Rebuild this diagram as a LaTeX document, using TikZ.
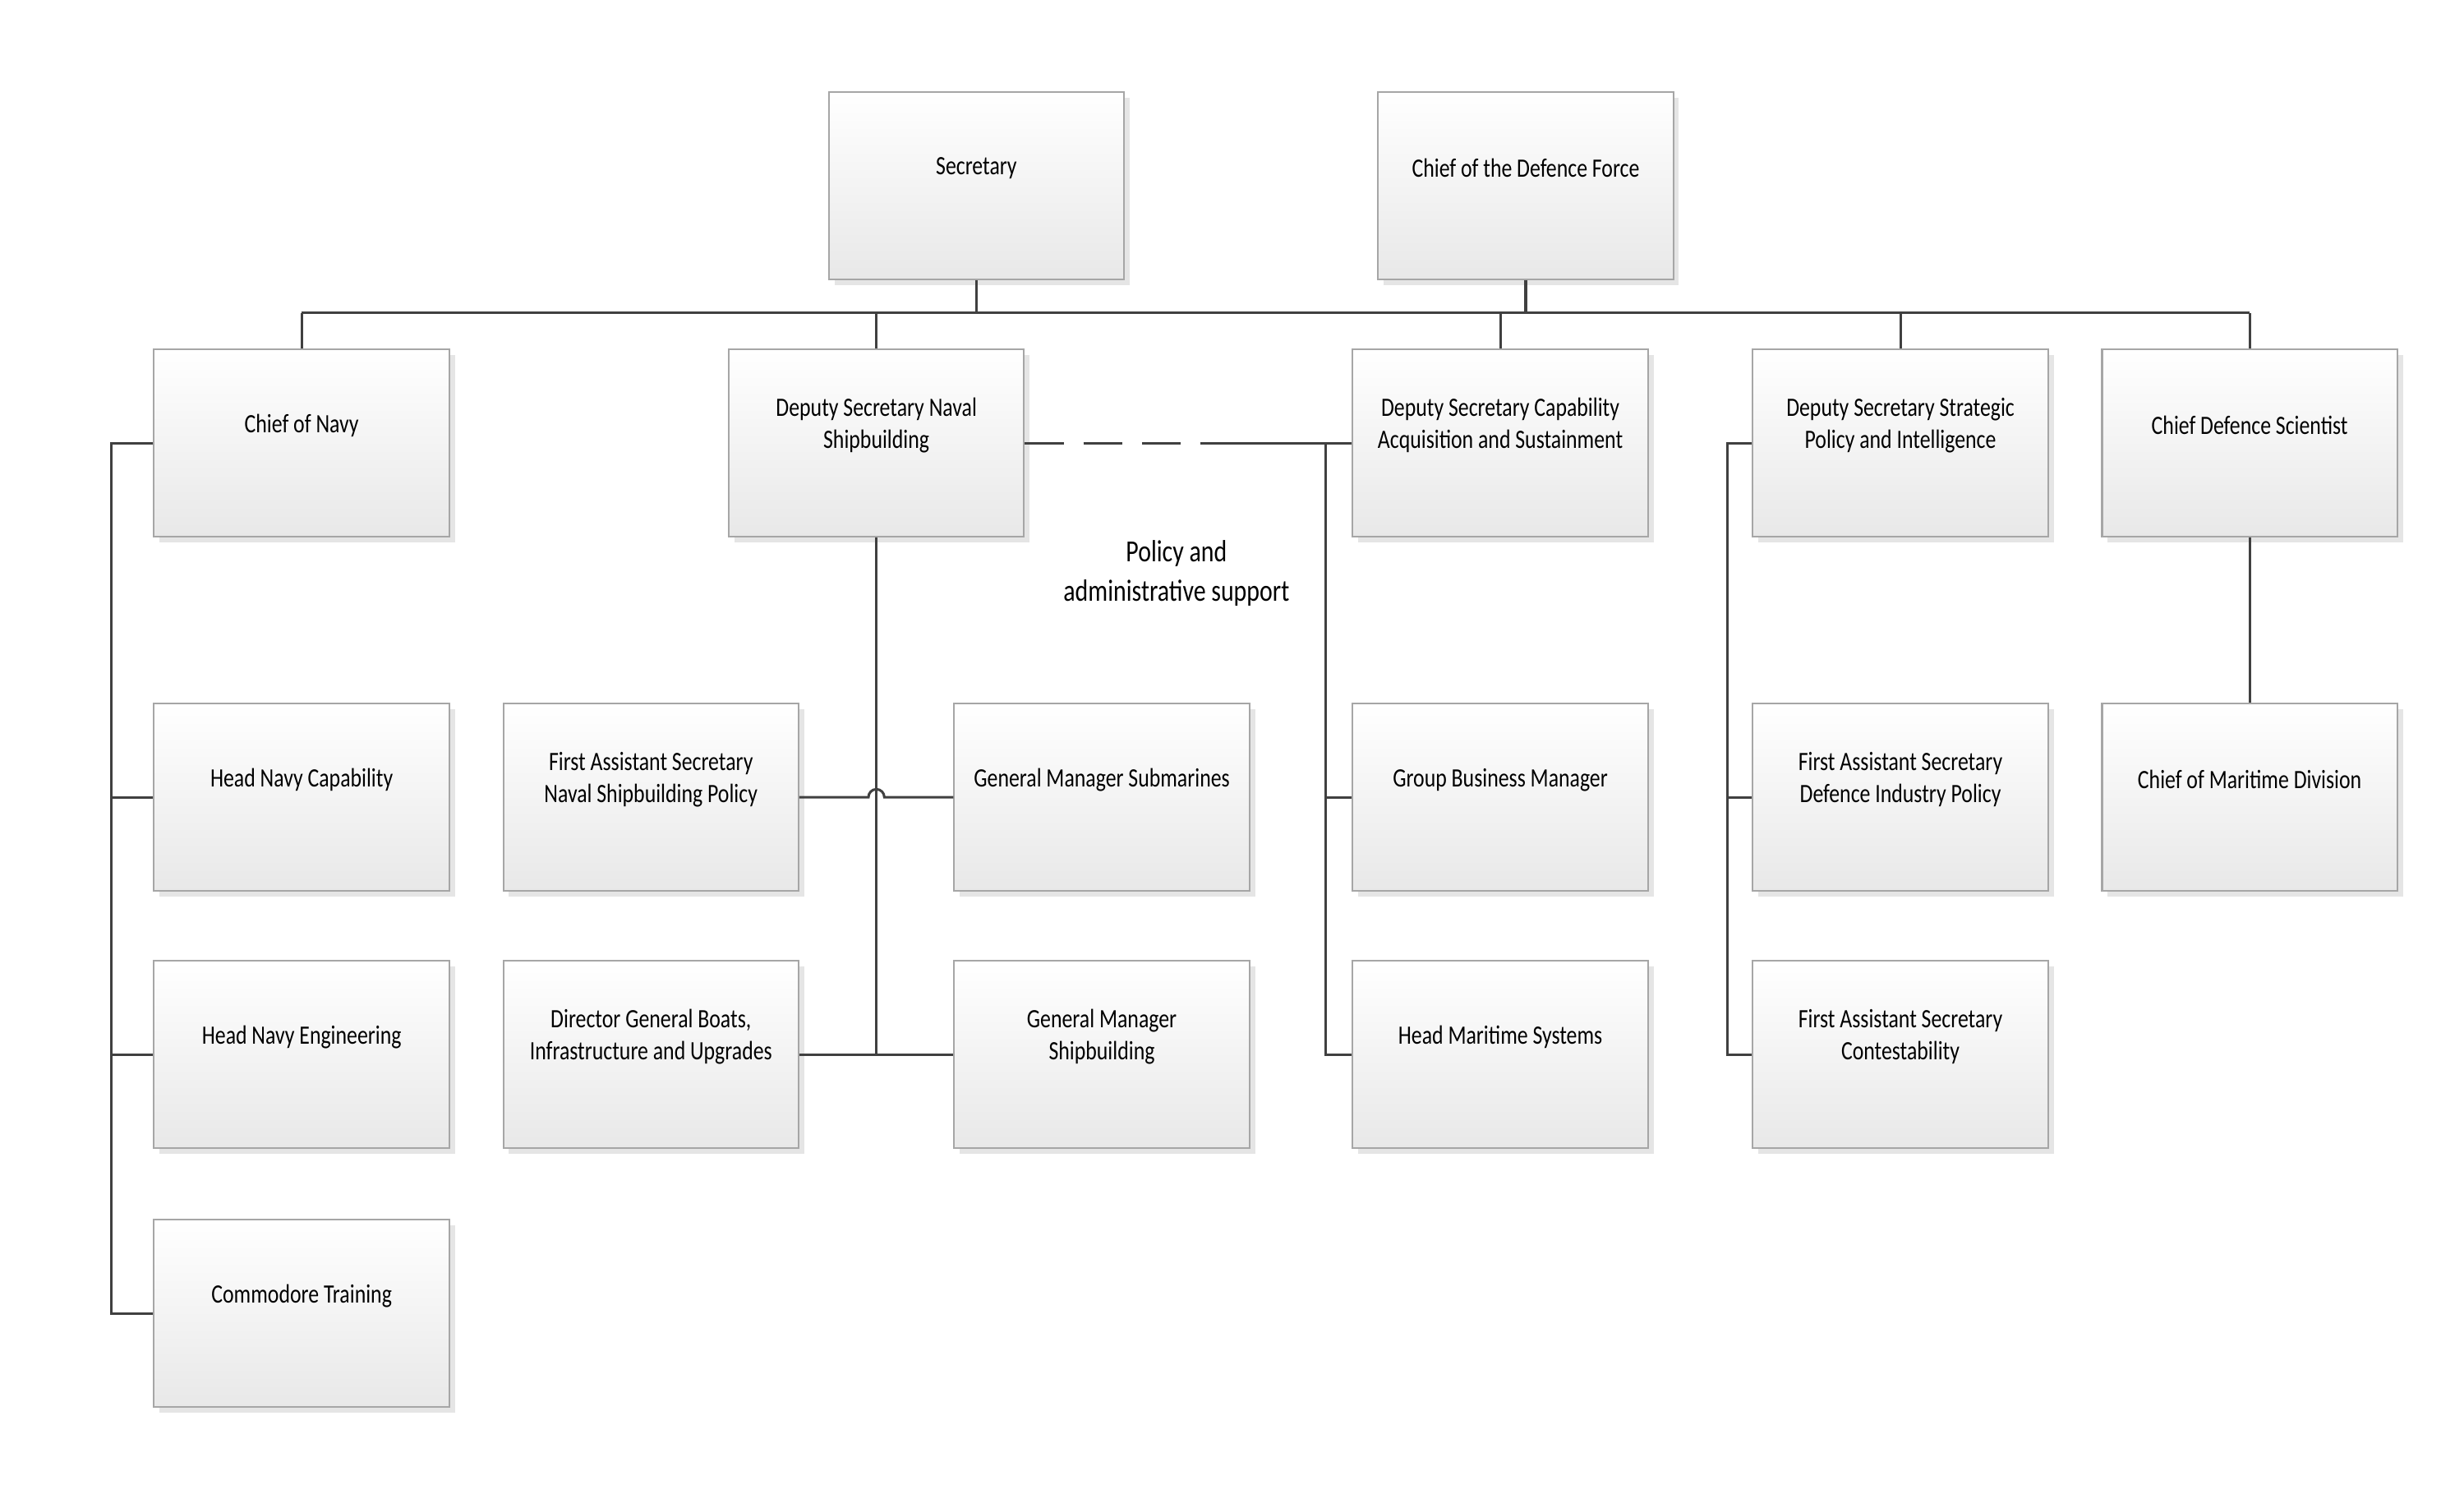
\documentclass[tikz,border=0pt]{standalone}
\usepackage{fontspec}
\setmainfont{Carlito}[FakeStretch=0.8]
\usetikzlibrary{shadows}
\begin{document}
\begin{tikzpicture}[x=0.02cm,y=-0.02cm,
 box/.style={draw=gray!70,line width=0.6pt,shade,top color=white,bottom color=gray!18,minimum width=3.72cm,minimum height=2.36cm,drop shadow={shadow xshift=2pt,shadow yshift=-2pt,fill=gray!40}},
 txt/.style={align=center,font=\fontsize{9.5}{11.5}\selectfont,inner sep=0pt},
 ln/.style={draw=black!75,line width=0.9pt}]
\useasboundingbox (0,0) rectangle (1552,935);
\newcommand\bx[4]{\node[box] (#1) at (#2,#3) {};\node[txt] (#1t) at ([yshift=0.22cm]#1.center) {#4};}
\bx{sec}{615}{117}{Secretary}
\bx{cdf}{961}{117}{Chief of the Defence Force}
\bx{cn}{190}{279}{Chief of Navy}
\bx{dsn}{552}{279}{Deputy Secretary Naval\\Shipbuilding}
\bx{dsc}{945}{279}{Deputy Secretary Capability\\Acquisition and Sustainment}
\bx{dss}{1197}{279}{Deputy Secretary Strategic\\Policy and Intelligence}
\bx{cds}{1417}{279}{Chief Defence Scientist}
\bx{hnc}{190}{502}{Head Navy Capability}
\bx{fasn}{410}{502}{First Assistant Secretary\\Naval Shipbuilding Policy}
\bx{gms}{694}{502}{General Manager Submarines}
\bx{gbm}{945}{502}{Group Business Manager}
\bx{fasd}{1197}{502}{First Assistant Secretary\\Defence Industry Policy}
\bx{cmd}{1417}{502}{Chief of Maritime Division}
\bx{hne}{190}{664}{Head Navy Engineering}
\bx{dgb}{410}{664}{Director General Boats,\\Infrastructure and Upgrades}
\bx{gmsb}{694}{664}{General Manager\\Shipbuilding}
\bx{hms}{945}{664}{Head Maritime Systems}
\bx{fasc}{1197}{664}{First Assistant Secretary\\Contestability}
\bx{ct}{190}{827}{Commodore Training}
\coordinate (busl) at (190,197);
\coordinate (busr) at (1417,197);
\draw[ln] (busl) -- (busr);
\draw[ln] (sec.south) -- (615,197);
\draw[ln] (cdf.south) -- (961,197);
\foreach \n/\x in {cn/190,dsn/552,dsc/945,dss/1197,cds/1417}{\draw[ln] (\x,197) -- (\n.north);}
% navy
\draw[ln] (cn.west) -- (70,279) |- (ct.west);
\draw[ln] (70,502) -- (hnc.west);
\draw[ln] (70,664) -- (hne.west);
% naval shipbuilding
\draw[ln] (dsn.south) -- (552,664);
\draw[ln] (fasn.east) -- (547,502) arc (180:0:0.1cm) -- (gms.west);
\draw[ln] (dgb.east) -- (gmsb.west);
% capability
\draw[ln,dashed,dash pattern=on 14pt off 7pt] (dsn.east) -- (775,279);
\draw[ln] (775,279) -- (dsc.west);
\draw[ln] (835,279) |- (hms.west);
\draw[ln] (835,502) -- (gbm.west);
\node[txt,font=\fontsize{11}{14}\selectfont] (pol) at (741,361) {Policy and\\administrative support};
% strategic
\draw[ln] (dss.west) -- (1088,279) |- (fasc.west);
\draw[ln] (1088,502) -- (fasd.west);
% scientist
\draw[ln] (cds.south) -- (cmd.north);
\end{tikzpicture}
\end{document}
